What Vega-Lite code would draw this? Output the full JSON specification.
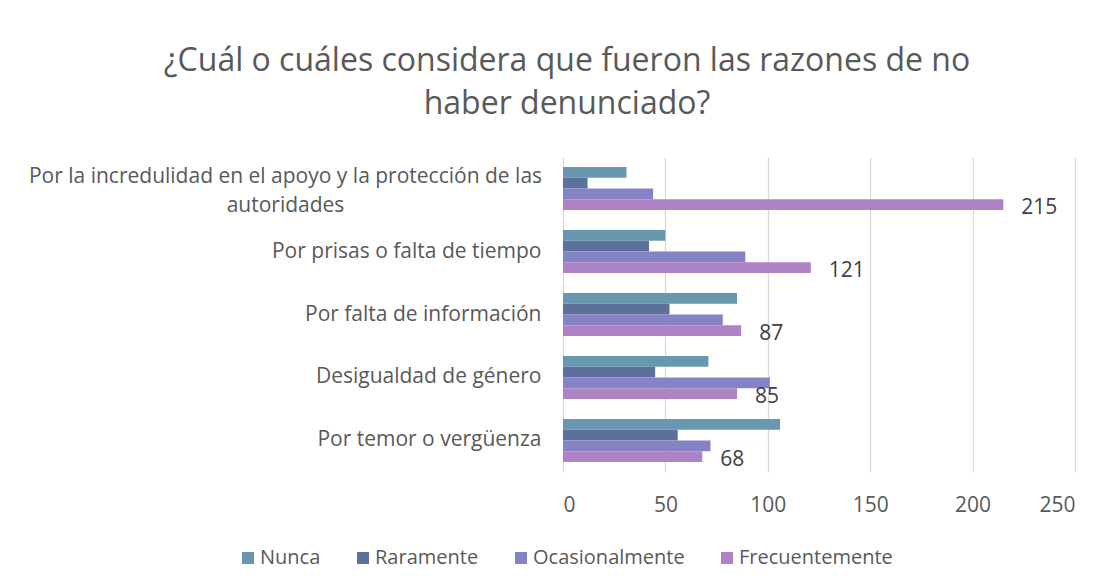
{
  "$schema": "https://vega.github.io/schema/vega-lite/v6.json",
  "width": 512,
  "height": 315,
  "autosize": "none",
  "padding": {"left": 563, "top": 157, "right": 35, "bottom": 116},
  "background": "white",
  "title": {
    "text": ["¿Cuál o cuáles considera que fueron las razones de no", "haber denunciado?"],
    "font": "Open Sans",
    "fontSize": 32,
    "fontWeight": "normal",
    "color": "#595959",
    "anchor": "middle",
    "lineHeight": 43,
    "offset": 36,
    "dx": -252
  },
  "data": {
    "values": [
      {"razon": "Por la incredulidad en el apoyo y la protección de las autoridades", "serie": "Nunca", "valor": 31},
      {"razon": "Por la incredulidad en el apoyo y la protección de las autoridades", "serie": "Raramente", "valor": 12},
      {"razon": "Por la incredulidad en el apoyo y la protección de las autoridades", "serie": "Ocasionalmente", "valor": 44},
      {"razon": "Por la incredulidad en el apoyo y la protección de las autoridades", "serie": "Frecuentemente", "valor": 215},
      {"razon": "Por prisas o falta de tiempo", "serie": "Nunca", "valor": 50},
      {"razon": "Por prisas o falta de tiempo", "serie": "Raramente", "valor": 42},
      {"razon": "Por prisas o falta de tiempo", "serie": "Ocasionalmente", "valor": 89},
      {"razon": "Por prisas o falta de tiempo", "serie": "Frecuentemente", "valor": 121},
      {"razon": "Por falta de información", "serie": "Nunca", "valor": 85},
      {"razon": "Por falta de información", "serie": "Raramente", "valor": 52},
      {"razon": "Por falta de información", "serie": "Ocasionalmente", "valor": 78},
      {"razon": "Por falta de información", "serie": "Frecuentemente", "valor": 87},
      {"razon": "Desigualdad de género", "serie": "Nunca", "valor": 71},
      {"razon": "Desigualdad de género", "serie": "Raramente", "valor": 45},
      {"razon": "Desigualdad de género", "serie": "Ocasionalmente", "valor": 101},
      {"razon": "Desigualdad de género", "serie": "Frecuentemente", "valor": 85},
      {"razon": "Por temor o vergüenza", "serie": "Nunca", "valor": 106},
      {"razon": "Por temor o vergüenza", "serie": "Raramente", "valor": 56},
      {"razon": "Por temor o vergüenza", "serie": "Ocasionalmente", "valor": 72},
      {"razon": "Por temor o vergüenza", "serie": "Frecuentemente", "valor": 68}
    ]
  },
  "encoding": {
    "y": {
      "field": "razon",
      "type": "nominal",
      "sort": ["Por la incredulidad en el apoyo y la protección de las autoridades", "Por prisas o falta de tiempo", "Por falta de información", "Desigualdad de género", "Por temor o vergüenza"],
      "scale": {"paddingInner": 0.317, "paddingOuter": 0.159},
      "axis": {
        "title": null,
        "domain": false,
        "ticks": false,
        "labelPadding": {"condition": {"test": "datum.value == 'Por la incredulidad en el apoyo y la protección de las autoridades'", "value": 278}, "value": 22},
        "labelAlign": {"condition": {"test": "datum.value == 'Por la incredulidad en el apoyo y la protección de las autoridades'", "value": "center"}, "value": "right"},
        "labelOffset": {"condition": {"test": "datum.value == 'Por la incredulidad en el apoyo y la protección de las autoridades'", "value": -12}, "value": 0},
        "labelFont": "Open Sans",
        "labelFontSize": 21,
        "labelColor": "#595959",
        "labelLimit": 0,
        "labelLineHeight": 29,
        "labelExpr": "datum.value == 'Por la incredulidad en el apoyo y la protección de las autoridades' ? ['Por la incredulidad en el apoyo y la protección de las', 'autoridades'] : datum.value"
      }
    },
    "yOffset": {
      "field": "serie",
      "type": "nominal",
      "sort": ["Nunca", "Raramente", "Ocasionalmente", "Frecuentemente"],
      "scale": {"domain": ["Nunca", "Raramente", "Ocasionalmente", "Frecuentemente"], "paddingInner": 0, "paddingOuter": 0}
    },
    "x": {
      "field": "valor",
      "type": "quantitative",
      "scale": {"domain": [0, 250], "nice": false},
      "axis": {
        "title": null,
        "values": [0, 50, 100, 150, 200, 250],
        "domain": false,
        "ticks": false,
        "grid": true,
        "gridColor": "#d9d9d9",
        "gridWidth": 1.3,
        "labelPadding": 22,
        "labelFont": "Open Sans",
        "labelFontSize": 21,
        "labelColor": "#595959"
      }
    }
  },
  "layer": [
    {
      "mark": {"type": "bar"},
      "encoding": {
        "color": {
          "field": "serie",
          "type": "nominal",
          "sort": ["Nunca", "Raramente", "Ocasionalmente", "Frecuentemente"],
          "scale": {"domain": ["Nunca", "Raramente", "Ocasionalmente", "Frecuentemente"], "range": ["#6997b0", "#5b7199", "#8583c6", "#ad83c6"]},
          "legend": {
            "title": null,
            "orient": "none",
            "direction": "horizontal",
            "legendX": -325,
            "legendY": 391,
            "symbolType": "square",
            "symbolSize": 144,
            "symbolStrokeWidth": 0,
            "labelFont": "Open Sans",
            "labelFontSize": 20,
            "labelColor": "#595959",
            "labelOffset": 2,
            "columnPadding": 32
          }
        }
      }
    },
    {
      "transform": [{"filter": "datum.serie == 'Frecuentemente'"}],
      "mark": {"type": "text", "align": "left", "baseline": "middle", "dx": 18, "dy": 3, "font": "Open Sans", "fontSize": 21, "color": "#404040"},
      "encoding": {
        "text": {"field": "valor", "type": "quantitative"}
      }
    }
  ],
  "config": {
    "view": {"stroke": null}
  }
}
